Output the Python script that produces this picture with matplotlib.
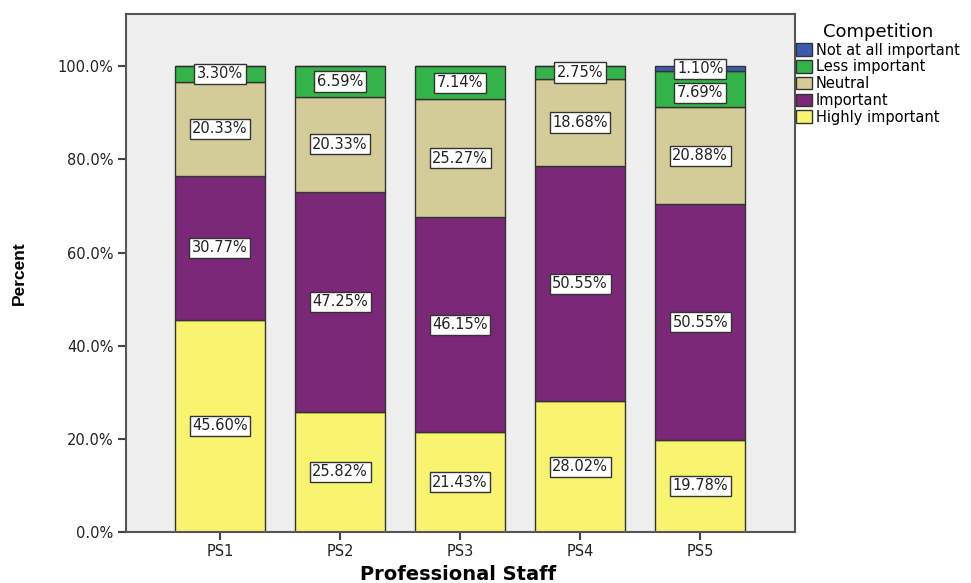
import matplotlib
matplotlib.use("Agg")
import matplotlib.pyplot as plt
import numpy as np
from matplotlib.patches import Patch

plt.rcParams['font.family'] = ['DejaVu Sans']

categories = ["PS1", "PS2", "PS3", "PS4", "PS5"]
levels = ["Highly important", "Important", "Neutral", "Less important", "Not at all important"]
highly_important = [45.60, 25.82, 21.43, 28.02, 19.78]
important = [30.77, 47.25, 46.15, 50.55, 50.55]
neutral = [20.33, 20.33, 25.27, 18.68, 20.88]
less_important = [3.30, 6.59, 7.14, 2.75, 7.69]
not_at_all = [0.0, 0.0, 0.0, 0.0, 1.10]
series = [highly_important, important, neutral, less_important, not_at_all]
colors = ["#F8F470", "#7B2879", "#D3CC98", "#33B449", "#3A5BB0"]

fig = plt.figure(figsize=(9.71, 5.83), dpi=100)
ax = fig.add_axes([126 / 971, 1 - 532 / 583, (795 - 126) / 971, (532 - 14) / 583])
ax.set_facecolor("#EFEFEF")

x = np.arange(len(categories))
bottom = np.zeros(len(categories))
label_pos = [[] for _ in categories]
for vals, col in zip(series, colors):
    vals = np.array(vals)
    ax.bar(x, vals, 0.75, bottom=bottom, color=col, edgecolor="#333333", linewidth=1.0, zorder=2)
    for i, v in enumerate(vals):
        if v > 0:
            label_pos[i].append([bottom[i] + v / 2, v])
    bottom += vals

# keep stacked value boxes from overlapping
for i, items in enumerate(label_pos):
    for k in range(len(items) - 1, 0, -1):
        upper, lower = items[k], items[k - 1]
        if upper[0] - lower[0] < 5.2:
            lower[0] = upper[0] - 5.2
    for yc, v in items:
        ax.text(x[i], yc, f"{v:.2f}%", ha="center", va="center", fontsize=10.5, color="#222222",
                zorder=4,
                bbox=dict(boxstyle="square,pad=0.18", facecolor="white", edgecolor="#333333", linewidth=1.0))

ax.set_xlim(-0.783, 4.79)
ax.set_ylim(0, 111.2)
ax.set_xticks(x)
ax.set_xticklabels(categories, fontsize=10.5, color="#222222")
yt = np.arange(0, 101, 20)
ax.set_yticks(yt)
ax.set_yticklabels([f"{t:.1f}%" for t in yt], fontsize=10.5, color="#222222")
ax.tick_params(axis="both", length=6, width=1.5, color="#444444", pad=3)
for s in ax.spines.values():
    s.set_color("#555555")
    s.set_linewidth(1.5)

ax.set_xlabel("Professional Staff", fontsize=14, fontweight="bold", va="center")
ax.xaxis.set_label_coords(0.497, -(575 - 532) / 518)
ax.set_ylabel("Percent", fontsize=12.5, fontweight="bold", va="center",
              family=["Liberation Sans", "DejaVu Sans"])
ax.yaxis.set_label_coords(-(126 - 19) / 669, 0.5)

handles = [Patch(facecolor=c, edgecolor="#333333", label=l) for c, l in zip(colors[::-1], levels[::-1])]
leg = fig.legend(handles=handles, title="Competition", loc="upper left",
                 bbox_to_anchor=(793 / 971, 1 - 20 / 583), frameon=False,
                 fontsize=10.5, title_fontsize=13, handlelength=1.1, handleheight=0.95,
                 handletextpad=0.25, labelspacing=0.12, borderaxespad=0, borderpad=0.2)

fig.savefig("out.png", dpi=100)
